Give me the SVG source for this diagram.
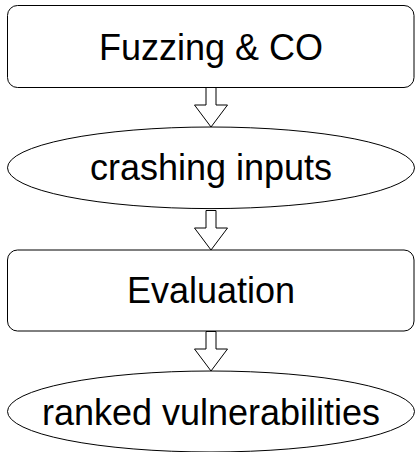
<svg xmlns="http://www.w3.org/2000/svg" width="416" height="452" viewBox="0 0 416 452">
  <style>
    .shape { fill: #ffffff; stroke: #000000; stroke-width: 1; }
    .label { font-family: "Liberation Sans", Arial, sans-serif; font-size: 36px; fill: #000000; text-anchor: middle; }
  </style>
  <defs>
    <!-- hollow block arrow, tip at origin -->
    <polygon id="blockArrow" points="-5,-39.5 5,-39.5 5,-22 16.5,-22 0,0 -16.5,-22 -5,-22"/>
  </defs>
  <rect width="416" height="452" fill="#ffffff"/>

  <g id="connectors">
    <use href="#blockArrow" class="shape" x="211" y="127"/>
    <use href="#blockArrow" class="shape" x="211" y="250"/>
    <use href="#blockArrow" class="shape" x="211" y="371"/>
  </g>

  <g id="fuzzing">
    <rect class="shape" x="7.5" y="5.5" width="406.5" height="82" rx="10" ry="10"/>
    <text class="label" x="211" y="59.5">Fuzzing &amp; CO</text>
  </g>

  <g id="crashing-inputs">
    <ellipse class="shape" cx="211" cy="167.8" rx="203.5" ry="40.8"/>
    <text class="label" x="211" y="179.5">crashing inputs</text>
  </g>

  <g id="evaluation">
    <rect class="shape" x="7.5" y="250" width="406.5" height="81" rx="10" ry="10"/>
    <text class="label" x="211" y="303">Evaluation</text>
  </g>

  <g id="ranked-vulnerabilities">
    <ellipse class="shape" cx="211" cy="411.5" rx="203.5" ry="40.5"/>
    <text class="label" x="211" y="424.5">ranked vulnerabilities</text>
  </g>
</svg>
